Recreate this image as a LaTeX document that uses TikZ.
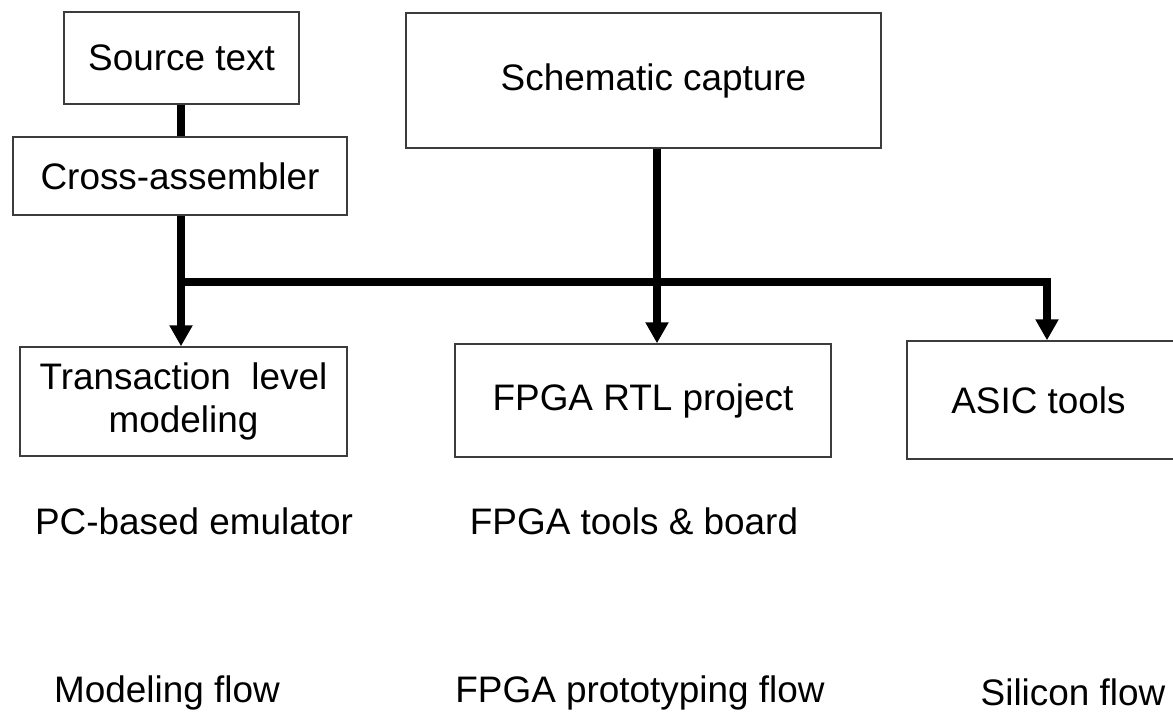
\documentclass[tikz,border=0pt]{standalone}
\usepackage{fontspec}
\setmainfont{Liberation Sans}
\usetikzlibrary{arrows.meta, positioning, calc}
\definecolor{boxline}{RGB}{60,60,60}

\begin{document}
\begin{tikzpicture}[
    x=0.02cm, y=-0.02cm,
    flowbox/.style={draw=boxline, line width=0.85pt, inner sep=0pt,
                    align=center, font=\fontsize{21}{24.5}\selectfont},
    busline/.style={line width=4.6pt},
    drop/.style={busline, -{Triangle[width=0.44cm, length=0.42cm]}},
    note/.style={anchor=base, inner sep=0pt, font=\fontsize{21}{24.5}\selectfont}
  ]
    \clip (0,0) rectangle (1173,713);
    \fill[white] (0,0) rectangle (1173,713);

    % sources
    \node[flowbox, minimum width=4.7cm, minimum height=1.84cm] (src) at (181.5,58) {Source text};
    \node[flowbox, minimum width=6.68cm, minimum height=1.56cm] (xasm) at (180,176) {Cross-assembler};
    \node[flowbox, minimum width=9.5cm, minimum height=2.7cm] (sch) at (643.5,80.5) {\hspace*{0.4cm}Schematic capture};

    % targets
    \node[flowbox, minimum width=6.54cm, minimum height=2.18cm] (tlm) at (183.5,401.5)
      {Transaction\ \ level\\modeling};
    \node[flowbox, minimum width=7.52cm, minimum height=2.26cm] (fpga) at (643,400.5) {FPGA RTL project};
    \node[flowbox, minimum width=5.46cm, minimum height=2.36cm] (asic) at (1043.5,400) {ASIC tools\hspace*{0.2cm}};

    % bus
    \coordinate (j1) at (181,282);
    \coordinate (j2) at (657,282);
    \coordinate (j3) at (1047,282);

    \draw[busline] (src.south -| j1) -- (xasm.north -| j1);
    \draw[drop] (xasm.south -| j1) -- (tlm.north -| j1);
    \draw[drop] (sch.south -| j2) -- (fpga.north -| j2);
    \draw[busline] (j1) -- (j2);
    \draw[drop] (j2) -| (asic.north -| j3);

    % labels
    \node[note] (pce) at (194,534) {PC-based emulator};
    \node[note] (fbrd) at (634,534) {FPGA tools \& board};
    \node[note] (mflow) at (167,702) {Modeling flow};
    \node[note] (pflow) at (640,702) {FPGA prototyping flow};
    \node[note] (sflow) at (1073,705) {Silicon flow};
  \end{tikzpicture}
\end{document}
